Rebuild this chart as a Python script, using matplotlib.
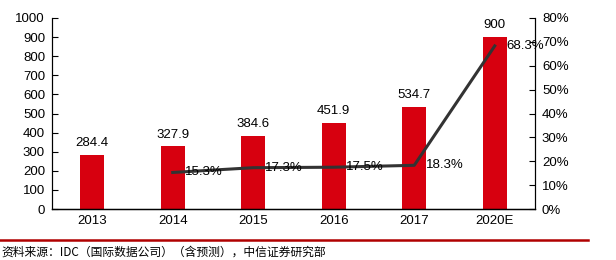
import numpy as np
import matplotlib
matplotlib.use('Agg')
import matplotlib.pyplot as plt
from matplotlib.lines import Line2D

plt.rcParams['font.family'] = ['Liberation Sans', 'Noto Sans CJK SC', 'DejaVu Sans']

years = ['2013', '2014', '2015', '2016', '2017', '2020E']
sales = [284.4, 327.9, 384.6, 451.9, 534.7, 900]
growth_years = ['2014', '2015', '2016', '2017', '2020E']
growth = [15.3, 17.3, 17.5, 18.3, 68.3]
source = '资料来源：IDC（国际数据公司）（含预测），中信证券研究部'

bar_color = '#D7000F'
line_color = '#333333'

fig = plt.figure(figsize=(6.16, 2.6), dpi=100)
ax = fig.add_axes([52 / 616, 1 - 209 / 260, 483 / 616, 191 / 260])
ax2 = ax.twinx()

x = np.arange(len(years))
ax.bar(x, sales, width=0.3, color=bar_color, zorder=2)
for xi, v in zip(x, sales):
    ax.text(xi, v + 30, '{:g}'.format(v), ha='center', va='bottom', fontsize=9.5)

gx = [years.index(y) for y in growth_years]
ax2.plot(gx, growth, color=line_color, linewidth=2.2, zorder=3)
for xi, v in zip(gx, growth):
    ax2.text(xi + 0.15, v, '{:.1f}%'.format(v), ha='left', va='center', fontsize=9.5, zorder=4)

ax.set_xlim(-0.5, len(years) - 0.5)
ax.set_ylim(0, 1000)
ax.set_yticks(np.arange(0, 1001, 100))
ax2.set_ylim(0, 80)
ax2.set_yticks(np.arange(0, 81, 10))
ax2.set_yticklabels(['{:d}%'.format(t) for t in range(0, 81, 10)])
ax.set_xticks(x)
ax.set_xticklabels(years)

for a in (ax, ax2):
    a.spines['top'].set_visible(False)
    a.tick_params(labelsize=9.5, length=4, width=0.8, direction='in', pad=3)
ax.tick_params(axis='x', length=0, pad=4)
ax.spines['left'].set_linewidth(0.8)
ax.spines['bottom'].set_linewidth(1.0)
ax2.spines['right'].set_linewidth(0.8)
ax2.tick_params(axis='y', pad=5)
ax.tick_params(axis='y', pad=5)

fig.add_artist(Line2D([0, 588 / 616], [1 - 240 / 260] * 2, color='#B00000', linewidth=1.8))
fig.text(1 / 616, 1 - 252 / 260, source, ha='left', va='center', fontsize=8.5,
         family=['Noto Sans CJK SC', 'DejaVu Sans'])

fig.savefig('out.png', dpi=100)
